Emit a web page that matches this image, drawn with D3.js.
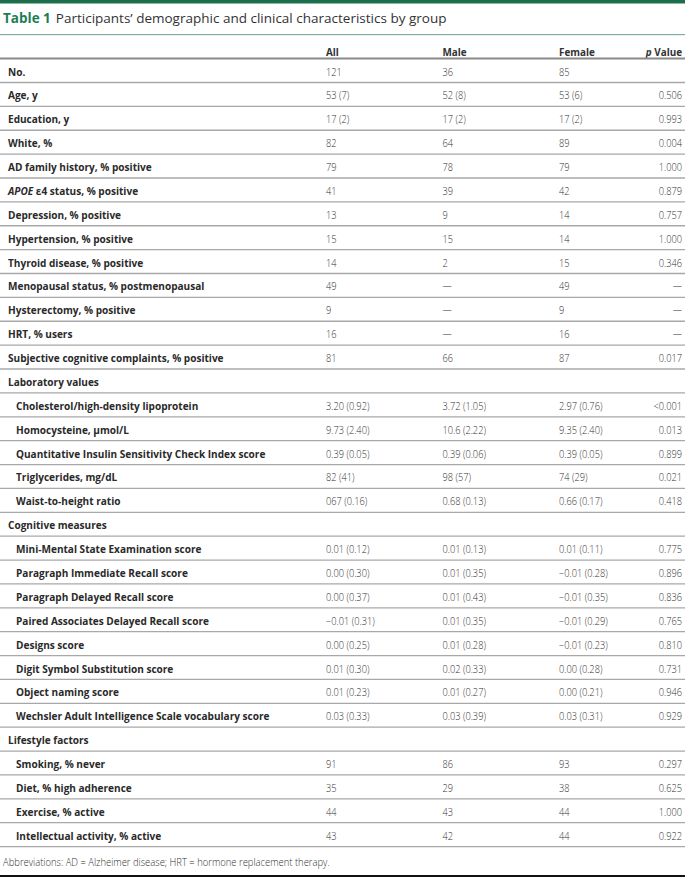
<!DOCTYPE html>
<html>
<head>
<meta charset="utf-8">
<script src="https://cdn.jsdelivr.net/npm/d3@7"></script>
<style>
  body { margin: 0; background: #fff; }
  text { font-family: "Open Sans", "Noto Sans", sans-serif; }
</style>
</head>
<body>
<script>
// table content
var columns = ["All", "Male", "Female"];
var pHeader = "p Value";
var rowLabels = [
  "No.", "Age, y", "Education, y", "White, %", "AD family history, % positive",
  "APOE ε4 status, % positive", "Depression, % positive", "Hypertension, % positive",
  "Thyroid disease, % positive", "Menopausal status, % postmenopausal",
  "Hysterectomy, % positive", "HRT, % users", "Subjective cognitive complaints, % positive",
  "Laboratory values",
  "Cholesterol/high-density lipoprotein", "Homocysteine, µmol/L",
  "Quantitative Insulin Sensitivity Check Index score", "Triglycerides, mg/dL",
  "Waist-to-height ratio",
  "Cognitive measures",
  "Mini-Mental State Examination score", "Paragraph Immediate Recall score",
  "Paragraph Delayed Recall score", "Paired Associates Delayed Recall score",
  "Designs score", "Digit Symbol Substitution score", "Object naming score",
  "Wechsler Adult Intelligence Scale vocabulary score",
  "Lifestyle factors",
  "Smoking, % never", "Diet, % high adherence", "Exercise, % active",
  "Intellectual activity, % active"
];
var indentedRows = rowLabels.slice(14, 19).concat(rowLabels.slice(20, 28), rowLabels.slice(29));
var allValues = ["121", "53 (7)", "17 (2)", "82", "79", "41", "13", "15", "14", "49", "9", "16", "81",
  "", "3.20 (0.92)", "9.73 (2.40)", "0.39 (0.05)", "82 (41)", "067 (0.16)",
  "", "0.01 (0.12)", "0.00 (0.30)", "0.00 (0.37)", "−0.01 (0.31)", "0.00 (0.25)", "0.01 (0.30)", "0.01 (0.23)", "0.03 (0.33)",
  "", "91", "35", "44", "43"];
var maleValues = ["36", "52 (8)", "17 (2)", "64", "78", "39", "9", "15", "2", "—", "—", "—", "66",
  "", "3.72 (1.05)", "10.6 (2.22)", "0.39 (0.06)", "98 (57)", "0.68 (0.13)",
  "", "0.01 (0.13)", "0.01 (0.35)", "0.01 (0.43)", "0.01 (0.35)", "0.01 (0.28)", "0.02 (0.33)", "0.01 (0.27)", "0.03 (0.39)",
  "", "86", "29", "43", "42"];
var femaleValues = ["85", "53 (6)", "17 (2)", "89", "79", "42", "14", "14", "15", "49", "9", "16", "87",
  "", "2.97 (0.76)", "9.35 (2.40)", "0.39 (0.05)", "74 (29)", "0.66 (0.17)",
  "", "0.01 (0.11)", "−0.01 (0.28)", "−0.01 (0.35)", "−0.01 (0.29)", "−0.01 (0.23)", "0.00 (0.28)", "0.00 (0.21)", "0.03 (0.31)",
  "", "93", "38", "44", "44"];
var pValues = ["", "0.506", "0.993", "0.004", "1.000", "0.879", "0.757", "1.000", "0.346", "—", "—", "—", "0.017",
  "", "<0.001", "0.013", "0.899", "0.021", "0.418",
  "", "0.775", "0.896", "0.836", "0.765", "0.810", "0.731", "0.946", "0.929",
  "", "0.297", "0.625", "1.000", "0.922"];
var footnote = "Abbreviations: AD = Alzheimer disease; HRT = hormone replacement therapy.";

var width = 685, height = 877;
var green = "#1c6e4c";

var svg = d3.select("body").append("svg").attr("width", width).attr("height", height);

var y = d3.scaleBand().domain(d3.range(rowLabels.length)).range([58.6, 846.6]);
var x = d3.scalePoint().domain(columns).range([326, 559]);
var pRight = 682;

function place(sel, px, py, sq) {
  return sel.attr("transform", "translate(" + px + "," + py + ") scale(" + sq + ",1)");
}

// top bar and title
svg.append("rect").attr("x", 0).attr("y", 0).attr("width", width).attr("height", 3.5).attr("fill", green);
var title = place(svg.append("text"), 3, 22.5, 1).attr("font-size", 13.5);
title.append("tspan").attr("fill", "#1f7d55").attr("font-weight", 700).text("Table 1");
title.append("tspan").attr("fill", "#333").attr("dx", 5).text("Participants’ demographic and clinical characteristics by group");
svg.append("rect").attr("x", 0).attr("y", 34).attr("width", width).attr("height", 1.2).attr("fill", "#7fb49a");

// header
columns.forEach(function (c) {
  place(svg.append("text"), x(c), 56, 0.9).attr("font-size", 11).attr("font-weight", 700).attr("fill", "#333").text(c);
});
var ph = place(svg.append("text"), pRight, 56, 0.9).attr("font-size", 11).attr("font-weight", 700)
  .attr("fill", "#333").attr("text-anchor", "end");
ph.append("tspan").attr("font-style", "italic").text("p");
ph.append("tspan").text(" Value");

// row separators
svg.selectAll("line.sep").data(d3.range(rowLabels.length + 1)).enter().append("line")
  .attr("class", "sep")
  .attr("x1", 0).attr("x2", width)
  .attr("y1", function (i) { return i === rowLabels.length ? y(i - 1) + y.bandwidth() : y(i); })
  .attr("y2", function (i) { return i === rowLabels.length ? y(i - 1) + y.bandwidth() : y(i); })
  .attr("stroke", function (i) { return i === 0 ? "#8a8a8a" : "#a8a8a8"; })
  .attr("stroke-width", function (i) { return i === 0 ? 2 : 1.3; });

// rows
var rows = svg.selectAll("g.row").data(rowLabels).enter().append("g").attr("class", "row");
rows.each(function (label, i) {
  var g = d3.select(this);
  var cy = y(i) + y.bandwidth() / 2 + 5;
  var lx = indentedRows.indexOf(label) >= 0 ? 16 : 8;
  var t = place(g.append("text"), lx, cy, 0.915).attr("font-size", 11).attr("font-weight", 700).attr("fill", "#2a2a2a");
  if (label.indexOf("APOE") === 0) {
    t.append("tspan").attr("font-style", "italic").text("APOE");
    t.append("tspan").text(label.slice(4));
  } else {
    t.text(label);
  }
  [allValues, maleValues, femaleValues].forEach(function (vals, k) {
    if (vals[i]) {
      place(g.append("text"), x(columns[k]), cy, 0.88).attr("font-size", 10.5).attr("font-weight", 300)
        .attr("fill", "#333").text(vals[i]);
    }
  });
  if (pValues[i]) {
    place(g.append("text"), pRight, cy, 0.88).attr("font-size", 10.5).attr("font-weight", 300)
      .attr("fill", "#333").attr("text-anchor", "end").text(pValues[i]);
  }
});

// footnote and bottom rule
place(svg.append("text"), 3, 866, 0.9).attr("font-size", 10.5).attr("font-weight", 300).attr("fill", "#333").text(footnote);
svg.append("rect").attr("x", 0).attr("y", 875).attr("width", width).attr("height", 2).attr("fill", "#111");
</script>
</body>
</html>
